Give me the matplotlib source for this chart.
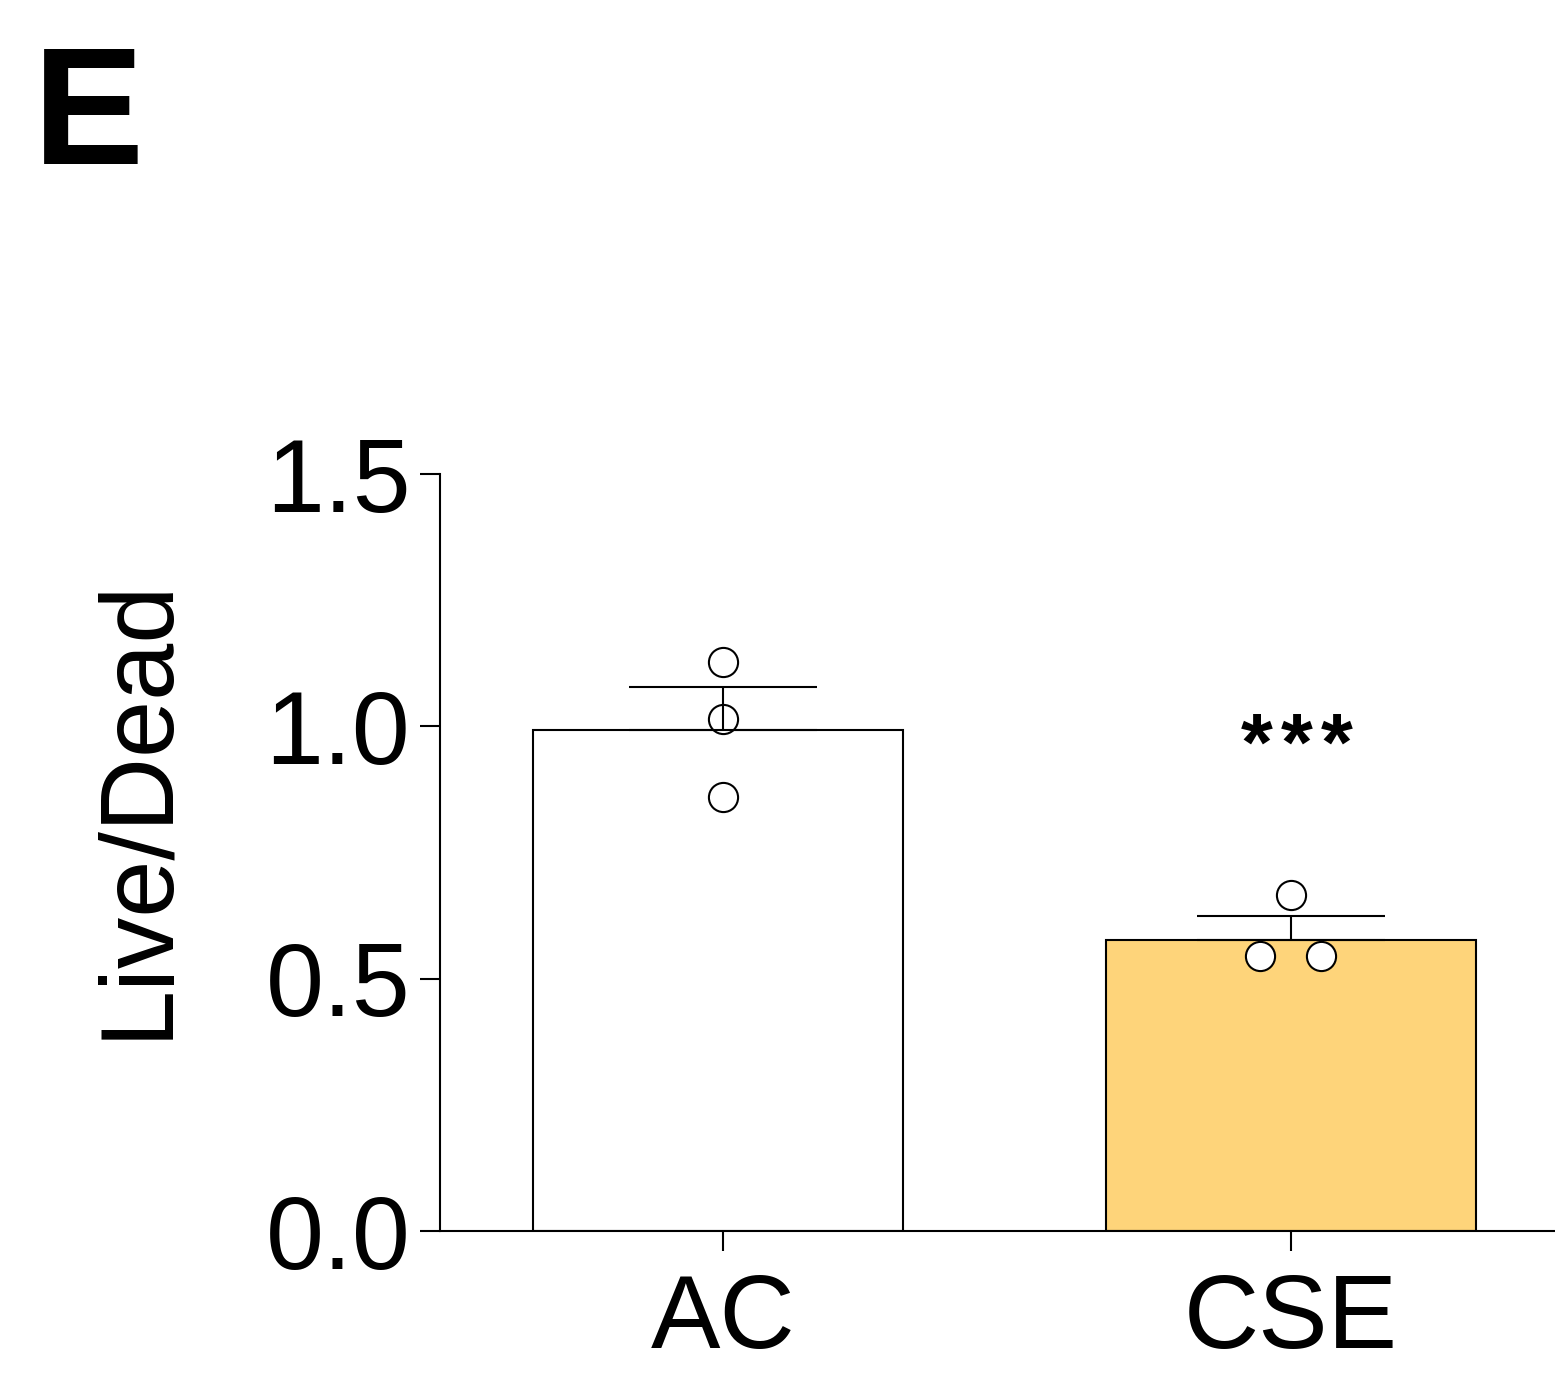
import matplotlib
matplotlib.use("Agg")
import matplotlib.pyplot as plt
import numpy as np

plt.rcParams['font.family'] = ['Liberation Sans', 'DejaVu Sans']

# Live/Dead ratio per group
groups = ['AC', 'CSE']
means = [0.992, 0.577]
sems = [0.085, 0.048]
replicates = [
    [1.127, 1.014, 0.860],
    [0.665, 0.544, 0.544],
]
bar_colors = ['#FFFFFF', '#FED47A']
significance = ['', '***']
yticks = [0.0, 0.5, 1.0, 1.5]
ytick_labels = ['0.0', '0.5', '1.0', '1.5']

# horizontal spread of replicate dots within each bar
dot_offsets = [[0.0, 0.0, 0.0], [0.0, -0.054, 0.053]]
bar_shift = [-0.009, 0.0]

W, H = 1555, 1377
fig = plt.figure(figsize=(W / 100, H / 100), dpi=100)
ax = fig.add_axes([440 / W, 146 / H, 1 - 440 / W, 757 / H])

lw = 1.5
x = np.arange(len(groups))
ax.bar(x + np.array(bar_shift), means, width=0.651, color=bar_colors,
       edgecolor='black', linewidth=lw, zorder=1)

for i, pts in enumerate(replicates):
    xs = x[i] + np.array(dot_offsets[i])
    ax.plot(xs, pts, linestyle='none', marker='o', markersize=21,
            markerfacecolor='white', markeredgecolor='black',
            markeredgewidth=lw, zorder=3, clip_on=False)

ax.errorbar(x, means, yerr=[np.zeros(len(sems)), sems], fmt='none',
            ecolor='black', elinewidth=lw, capsize=68, capthick=lw, zorder=4)

# significance stars, one glyph at a time for even spacing
star_pitch = 0.0704
for i, s in enumerate(significance):
    n = len(s)
    for k, ch in enumerate(s):
        ax.text(x[i] + 0.011 + (k - (n - 1) / 2) * star_pitch, 0.914, ch,
                ha='center', va='baseline', fontsize=59, fontweight='bold')

ax.set_xlim(-0.498, 1.465)
ax.set_ylim(0, 1.5)
ax.set_yticks(yticks)
ax.set_yticklabels(ytick_labels)
ax.set_xticks(x)
ax.set_xticklabels(groups)

for side in ('top', 'right'):
    ax.spines[side].set_visible(False)
for side in ('left', 'bottom'):
    ax.spines[side].set_linewidth(lw)

ax.tick_params(axis='both', direction='out', length=14.4, width=lw,
               labelsize=75)
ax.tick_params(axis='y', pad=7)
ax.tick_params(axis='x', pad=16)

ax.set_ylabel('Live/Dead', fontsize=74)
ax.yaxis.set_label_coords(-0.227, 0.559)

fig.text(33 / W, (H - 164) / H, 'E', fontsize=120, fontweight='bold',
         ha='left', va='baseline')

fig.savefig('out.png', dpi=100)
